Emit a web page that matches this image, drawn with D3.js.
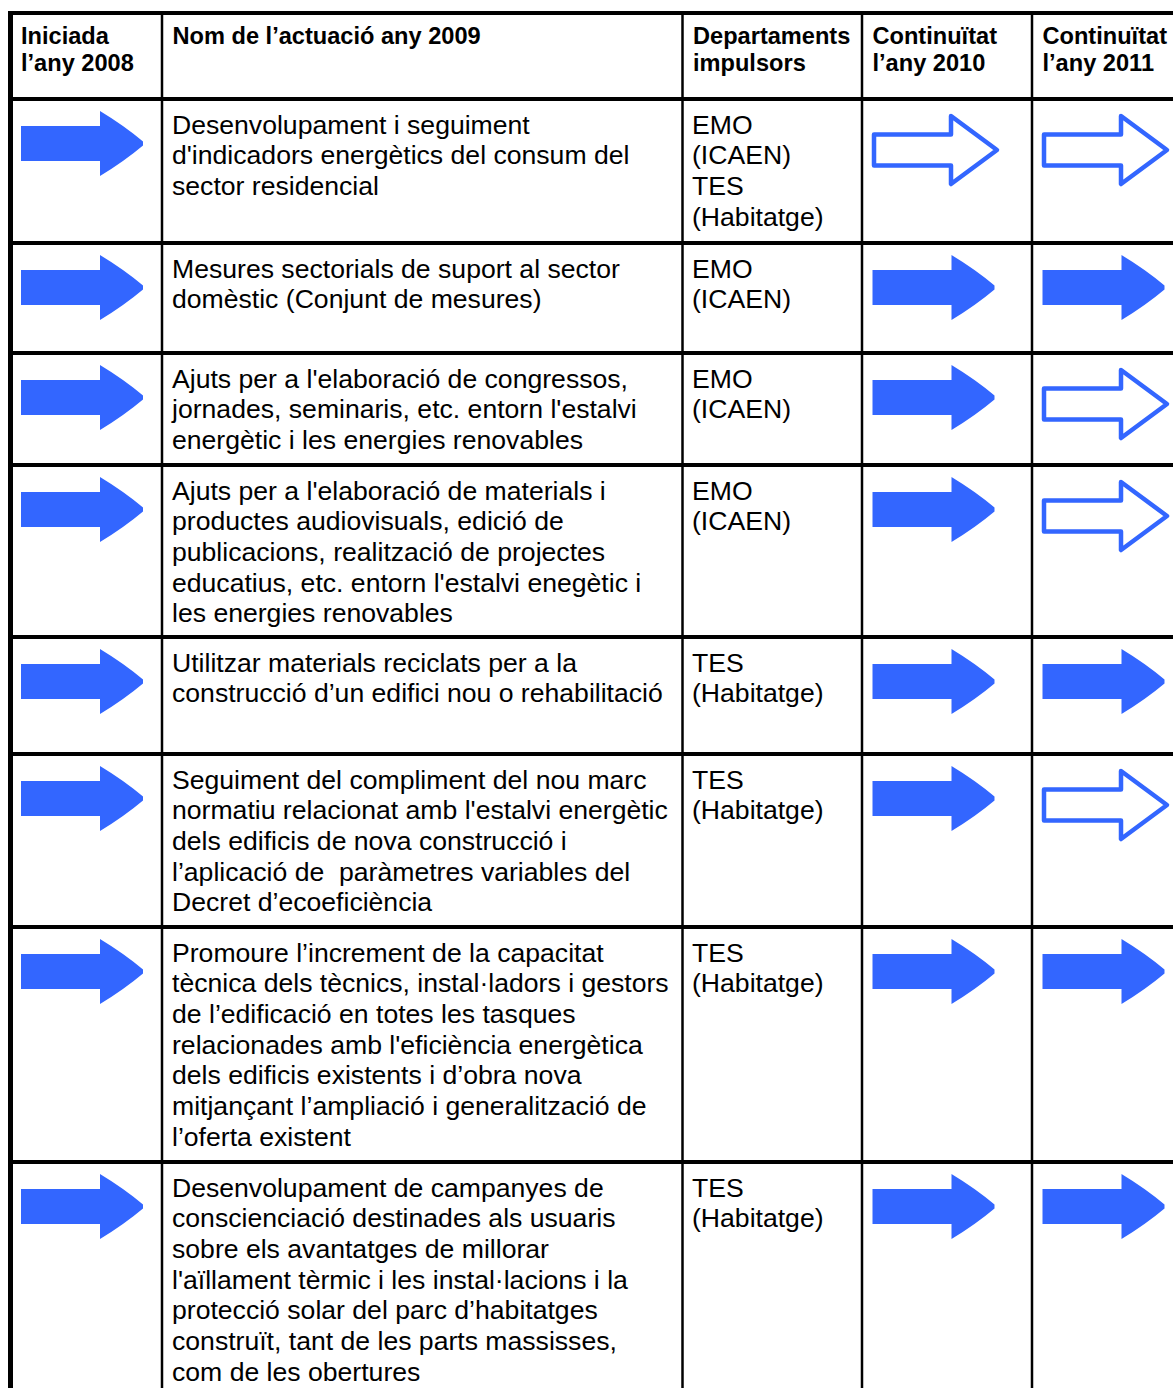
<!DOCTYPE html>
<html>
<head>
<meta charset="utf-8">
<script src="https://cdn.jsdelivr.net/npm/d3@7"></script>
<style>
  html, body { margin: 0; padding: 0; background: #fff; overflow: hidden; }
  svg { display: block; }
  text { white-space: pre; }
</style>
</head>
<body>
<svg id="chart" width="1173" height="1388"></svg>
<script>
// ---------- data ----------
const headers = [
  ["Iniciada", "l’any 2008"],
  ["Nom de l’actuació any 2009"],
  ["Departaments", "impulsors"],
  ["Continuïtat", "l’any 2010"],
  ["Continuïtat", "l’any 2011"]
];

const actionNames = [
  ["Desenvolupament i seguiment", "d'indicadors energètics del consum del", "sector residencial"],
  ["Mesures sectorials de suport al sector", "domèstic (Conjunt de mesures)"],
  ["Ajuts per a l'elaboració de congressos,", "jornades, seminaris, etc. entorn l'estalvi", "energètic i les energies renovables"],
  ["Ajuts per a l'elaboració de materials i", "productes audiovisuals, edició de", "publicacions, realització de projectes", "educatius, etc. entorn l'estalvi enegètic i", "les energies renovables"],
  ["Utilitzar materials reciclats per a la", "construcció d’un edifici nou o rehabilitació"],
  ["Seguiment del compliment del nou marc", "normatiu relacionat amb l'estalvi energètic", "dels edificis de nova construcció i", "l’aplicació de  paràmetres variables del", "Decret d’ecoeficiència"],
  ["Promoure l’increment de la capacitat", "tècnica dels tècnics, instal·ladors i gestors", "de l’edificació en totes les tasques", "relacionades amb l'eficiència energètica", "dels edificis existents i d’obra nova", "mitjançant l’ampliació i generalització de", "l’oferta existent"],
  ["Desenvolupament de campanyes de", "conscienciació destinades als usuaris", "sobre els avantatges de millorar", "l'aïllament tèrmic i les instal·lacions i la", "protecció solar del parc d’habitatges", "construït, tant de les parts massisses,", "com de les obertures"]
];

const departments = [
  ["EMO", "(ICAEN)", "TES", "(Habitatge)"],
  ["EMO", "(ICAEN)"],
  ["EMO", "(ICAEN)"],
  ["EMO", "(ICAEN)"],
  ["TES", "(Habitatge)"],
  ["TES", "(Habitatge)"],
  ["TES", "(Habitatge)"],
  ["TES", "(Habitatge)"]
];

// arrow status: "filled" = full arrow, "outline" = hollow arrow
const started2008 = ["filled", "filled", "filled", "filled", "filled", "filled", "filled", "filled"];
const cont2010    = ["outline", "filled", "filled", "filled", "filled", "filled", "filled", "filled"];
const cont2011    = ["outline", "filled", "outline", "outline", "filled", "outline", "filled", "filled"];

// ---------- layout ----------
const columnKeys = ["y2008", "name", "dept", "y2010", "y2011"];
const colEdges = [10.5, 162, 682.5, 862, 1032, 1200];
const rowEdges = [13, 99, 243, 353, 465, 637, 754, 927, 1162, 1400];

const xCol = d3.scaleOrdinal().domain(columnKeys).range(colEdges.slice(0, 5));
const yRow = d3.scaleOrdinal().domain(d3.range(rowEdges.length)).range(rowEdges);

const blue = "#3366ff";
const font = "'Liberation Sans', Arial, Helvetica, sans-serif";
const bodySize = 26.6, bodyLead = 30.67;
const headSize = 23.6, headLead = 27;
const pad = 10;

const svg = d3.select("#chart");
svg.append("rect").attr("width", 1173).attr("height", 1388).attr("fill", "#fff");

// ---------- header text ----------
const gHead = svg.append("g");
headers.forEach((lines, i) => {
  const t = gHead.append("text")
    .attr("x", xCol(columnKeys[i]) + pad + 0.5)
    .attr("y", yRow(0) + 31)
    .attr("font-family", font)
    .attr("font-weight", "bold")
    .attr("font-size", headSize)
    .attr("fill", "#000");
  lines.forEach((l, j) => {
    t.append("tspan").attr("x", xCol(columnKeys[i]) + pad + 0.5).attr("dy", j === 0 ? 0 : headLead).text(l);
  });
});

// ---------- body text ----------
function multiline(g, x, y, lines) {
  const t = g.append("text")
    .attr("x", x).attr("y", y)
    .attr("xml:space", "preserve")
    .attr("font-family", font)
    .attr("font-size", bodySize)
    .attr("fill", "#000");
  lines.forEach((l, j) => {
    t.append("tspan").attr("x", x).attr("dy", j === 0 ? 0 : bodyLead).text(l);
  });
}

const gBody = svg.append("g");
actionNames.forEach((lines, r) => {
  const top = yRow(r + 1);
  multiline(gBody, xCol("name") + pad, top + 34.5, lines);
  multiline(gBody, xCol("dept") + pad - 0.5, top + 34.5, departments[r]);
});

// ---------- arrows ----------
function filledArrow(x0, cy) {
  const p = d3.path();
  p.moveTo(x0, cy - 17.5);
  p.lineTo(x0 + 79, cy - 17.5);
  p.lineTo(x0 + 79, cy - 32.5);
  p.quadraticCurveTo(x0 + 103, cy - 18, x0 + 122, cy - 2);
  p.lineTo(x0 + 122, cy + 2);
  p.quadraticCurveTo(x0 + 103, cy + 18, x0 + 79, cy + 32.5);
  p.lineTo(x0 + 79, cy + 17.5);
  p.lineTo(x0, cy + 17.5);
  p.closePath();
  return p.toString();
}
function outlineArrow(x0, cy) {
  const p = d3.path();
  p.moveTo(x0, cy - 15.5);
  p.lineTo(x0 + 77, cy - 15.5);
  p.lineTo(x0 + 77, cy - 34);
  p.lineTo(x0 + 123, cy);
  p.lineTo(x0 + 77, cy + 34);
  p.lineTo(x0 + 77, cy + 15.5);
  p.lineTo(x0, cy + 15.5);
  p.closePath();
  return p.toString();
}

const gArrows = svg.append("g");
const arrowCols = [["y2008", started2008], ["y2010", cont2010], ["y2011", cont2011]];
arrowCols.forEach(([key, statuses]) => {
  statuses.forEach((s, r) => {
    const top = yRow(r + 1);
    const left = xCol(key);
    if (s === "filled") {
      gArrows.append("path")
        .attr("d", filledArrow(left + 10.5, top + 44.5))
        .attr("fill", blue);
    } else {
      gArrows.append("path")
        .attr("d", outlineArrow(left + 12, top + 51))
        .attr("fill", "none")
        .attr("stroke", blue)
        .attr("stroke-width", 4.5)
        .attr("stroke-linejoin", "round");
    }
  });
});

// ---------- grid lines ----------
const gGrid = svg.append("g").attr("stroke", "#000");
// vertical inner column lines
colEdges.slice(1, 5).forEach(x => {
  gGrid.append("line").attr("x1", x).attr("x2", x).attr("y1", yRow(0)).attr("y2", 1388).attr("stroke-width", 2.5);
});
// left outer border
gGrid.append("line").attr("x1", colEdges[0]).attr("x2", colEdges[0]).attr("y1", yRow(0) - 2).attr("y2", 1388).attr("stroke-width", 5);
// horizontal lines
rowEdges.slice(0, 9).forEach(y => {
  gGrid.append("line").attr("x1", colEdges[0] - 2.5).attr("x2", 1173).attr("y1", y).attr("y2", y).attr("stroke-width", 4);
});
</script>
</body>
</html>
